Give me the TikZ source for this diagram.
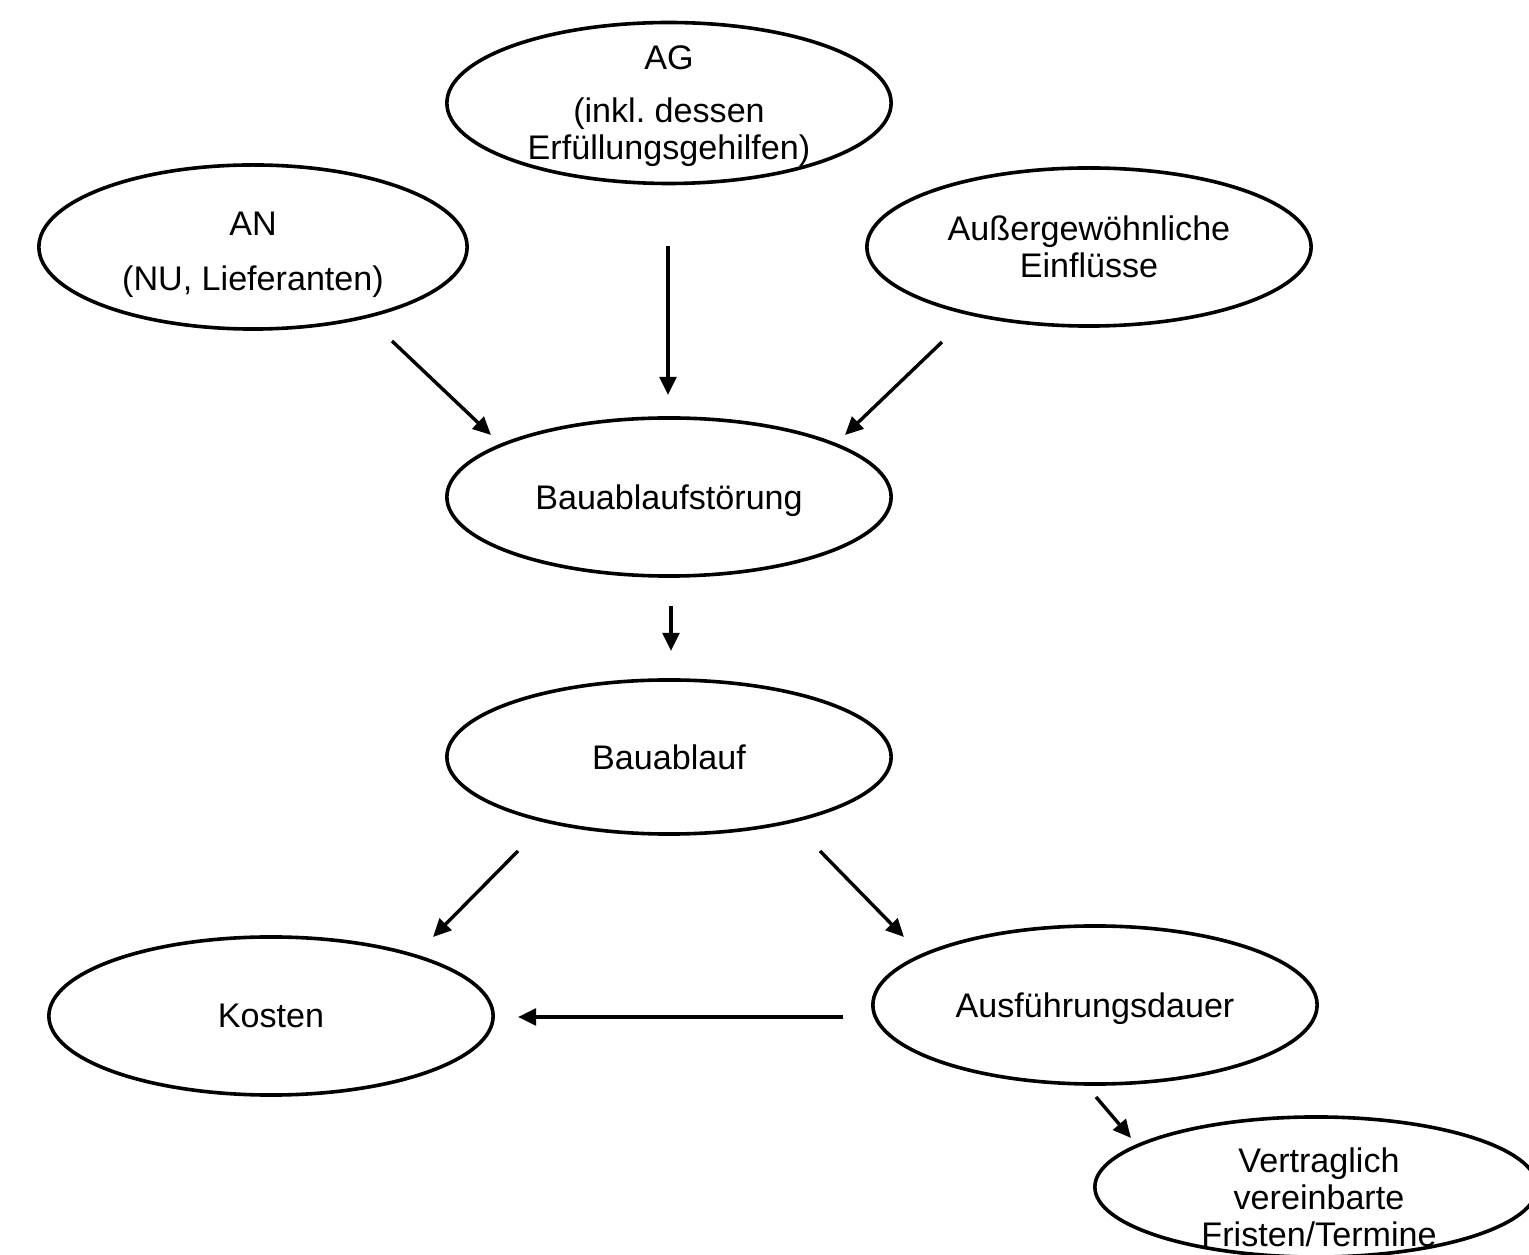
\documentclass[tikz,border=0pt]{standalone}
\usepackage{fontspec}
\setmainfont{Liberation Sans}
\usetikzlibrary{shapes.geometric,arrows.meta}
\frenchspacing
\begin{document}
\begin{tikzpicture}[x=0.01cm,y=-0.01cm,
  ell/.style={draw=black,line width=0.036cm,ellipse,inner sep=0pt,align=center,text depth=0pt,
    font=\fontsize{9.7}{10.5}\selectfont},
  txt/.style={inner sep=0pt,align=center,font=\fontsize{9.7}{10.5}\selectfont},
  arr/.style={line width=0.034cm,-{Triangle[length=0.18cm,width=0.165cm]}}]
\useasboundingbox (0,0) rectangle (1529,1255);
\node[ell,minimum width=4.44cm,minimum height=1.54cm] (ag) at (669,103) {AG\\[4.6pt](inkl. dessen\\Erfüllungsgehilfen)};
\node[ell,minimum width=4.28cm,minimum height=1.64cm] (an) at (253,247) {\rule{0pt}{9pt}AN\\[5pt](NU, Lieferanten)};
\node[ell,minimum width=4.44cm,minimum height=1.58cm] (ae) at (1089,247) {Außergewöhnliche\\Einflüsse};
\node[ell,minimum width=4.44cm,minimum height=1.58cm] (bs) at (669,497) {Bauablaufstörung};
\node[ell,minimum width=4.44cm,minimum height=1.54cm] (ba) at (669,757) {Bauablauf};
\node[ell,minimum width=4.44cm,minimum height=1.58cm] (ko) at (271,1016) {Kosten};
\node[ell,minimum width=4.44cm,minimum height=1.58cm] (ad) at (1095,1005) {Ausführungsdauer};
\node[ell,minimum width=4.42cm,minimum height=1.40cm] (vf) at (1316,1187) {};
\node[txt] (vft) at (1319,1197) {Vertraglich\\vereinbarte\\Fristen/Termine};
% arrow end points
\coordinate (an1) at (392,341); \coordinate (an2) at (491,435);
\coordinate (ag1) at (668,246); \coordinate (ag2) at (668,395);
\coordinate (ae1) at (942,342); \coordinate (ae2) at (845,435);
\coordinate (bs1) at (671,606); \coordinate (bs2) at (671,651);
\coordinate (bl1) at (518,851); \coordinate (bl2) at (433,937);
\coordinate (br1) at (820,851); \coordinate (br2) at (904,937);
\coordinate (ak1) at (843,1017); \coordinate (ak2) at (518,1017);
\coordinate (av1) at (1096,1097); \coordinate (av2) at (1131,1138);
\draw[arr] (an1) -- (an2);
\draw[arr] (ag1) -- (ag2);
\draw[arr] (ae1) -- (ae2);
\draw[arr] (bs1) -- (bs2);
\draw[arr] (bl1) -- (bl2);
\draw[arr] (br1) -- (br2);
\draw[arr] (ak1) -- (ak2);
\draw[arr] (av1) -- (av2);
\end{tikzpicture}
\end{document}
